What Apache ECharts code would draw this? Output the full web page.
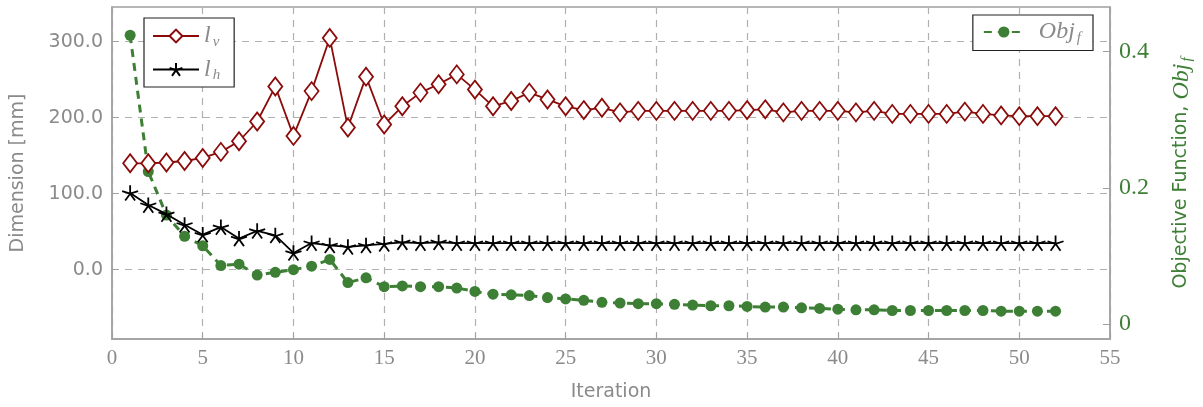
<!DOCTYPE html>
<html>
<head>
<meta charset="utf-8">
<script src="https://cdn.jsdelivr.net/npm/echarts@6/dist/echarts.min.js"></script>
<style>
  html, body { margin: 0; padding: 0; background: #fff; }
  #chart { width: 1203px; height: 407px; }
</style>
</head>
<body>
<div id="chart"></div>
<script>
// Iteration numbers
const iterations = [1,2,3,4,5,6,7,8,9,10,11,12,13,14,15,16,17,18,19,20,21,22,23,24,25,26,
  27,28,29,30,31,32,33,34,35,36,37,38,39,40,41,42,43,44,45,46,47,48,49,50,51,52];

// l_v dimension [mm]
const lv = [140,140,141,143,147,155,169,195,241,176,235,305,187,254,191,215,233,244,257,237,
  215,222,233,224,215,210,213,207,209,209,209,209,209,209,210,211,207,209,209,209,
  207,209,205,205,205,205,208,205,203,202,202,202];

// l_h dimension [mm]
const lh = [101,85,73,59,46,56,41,51,45,22,35,32,30,32,34,36,35,36,35,35,
  35,35,35,35,35,35,35,35,35,35,35,35,35,35,35,35,35,35,35,35,
  35,35,35,35,35,35,35,35,35,35,35,35];

// Objective function Obj_f
const objf = [0.424,0.224,0.160,0.129,0.115,0.086,0.088,0.072,0.076,0.080,0.085,0.095,0.061,0.068,
  0.055,0.056,0.055,0.055,0.053,0.048,0.044,0.043,0.042,0.039,0.037,0.035,0.032,0.031,0.030,
  0.030,0.029,0.028,0.027,0.027,0.026,0.025,0.025,0.024,0.023,0.022,0.021,0.021,0.020,0.020,
  0.020,0.020,0.020,0.020,0.019,0.019,0.019,0.019];

// Tick values
const leftTicks = [0,100,200,300];
const rightTicks = [0,0.2,0.4];

const RED = '#8b0a0a';
const GREEN = '#3d7f35';
const GRAY = '#8a8a8a';
const FRAME = '#a0a0a0';
const GRID = '#b0b0b0';

// five-armed asterisk marker
const STAR = 'path://M50,50L50,0M50,50L2.45,34.5M50,50L20.6,90.5M50,50L79.4,90.5M50,50L97.55,34.5';

const pair = (xs, ys) => xs.map((x, i) => [x, ys[i]]);

const chart = echarts.init(document.getElementById('chart'), null, { renderer: 'canvas' });

const mathRich = {
  m: { fontFamily: 'Liberation Serif', fontStyle: 'italic', fontSize: 24, color: GRAY },
  s: { fontFamily: 'Liberation Serif', fontStyle: 'italic', fontSize: 15, color: GRAY, padding: [12, 0, 0, 2] }
};

chart.setOption({
  animation: false,
  backgroundColor: '#fff',
  grid: {
    left: 112, right: 92, top: 7, bottom: 65,
    show: true, borderColor: FRAME, borderWidth: 1.5, backgroundColor: 'transparent'
  },
  legend: [
    {
      data: ['lv', 'lh'],
      orient: 'vertical',
      left: 144, top: 18,
      padding: [6, 14, 4, 8],
      itemWidth: 46, itemHeight: 16, itemGap: 8,
      borderColor: '#222', borderWidth: 1.2, backgroundColor: '#fff',
      formatter: n => n === 'lv' ? '{m|l}{s|v}' : '{m|l}{s|h}',
      textStyle: { rich: mathRich }
    },
    {
      data: ['objf'],
      right: 110, top: 15,
      padding: [5, 12, 5, 10],
      itemWidth: 40, itemHeight: 14, 
      borderColor: '#222', borderWidth: 1.2, backgroundColor: '#fff',
      formatter: () => '{m|Obj}{s|f}',
      textStyle: { rich: mathRich, padding: [0, 0, 0, 10] }
    }
  ],
  xAxis: {
    type: 'value', min: 0, max: 55, interval: 5,
    name: 'Iteration', nameLocation: 'middle', nameGap: 44,
    nameTextStyle: { fontFamily: 'DejaVu Sans', fontSize: 19, color: GRAY },
    axisLine: { show: true, onZero: false, lineStyle: { color: FRAME, width: 1.5 } },
    axisTick: { show: true, inside: true, length: 6, lineStyle: { color: FRAME } },
    axisLabel: { fontFamily: 'Liberation Serif', fontSize: 21, color: GRAY, margin: 9 },
    splitLine: { show: true, lineStyle: { color: GRID, type: [7, 6], width: 1.2 } }
  },
  yAxis: [
    {
      type: 'value', min: -91.3, max: 345.7, position: 'left',
      name: 'Dimension [mm]', nameLocation: 'middle', nameGap: 84,
      nameTextStyle: { fontFamily: 'DejaVu Sans', fontSize: 19, color: GRAY },
      axisLine: { show: true, lineStyle: { color: FRAME, width: 1.5 } },
      axisTick: { show: true, inside: true, length: 6, customValues: leftTicks, lineStyle: { color: FRAME } },
      axisLabel: {
        customValues: leftTicks, fontFamily: 'DejaVu Sans', fontSize: 19, color: GRAY, margin: 9,
        formatter: v => v.toFixed(1)
      },
      splitLine: { show: true, lineStyle: { color: GRID, type: [7, 6], width: 1.2 } }
    },
    {
      type: 'value', min: -0.02182, max: 0.46545, position: 'right',
      name: '{t|Objective Function, }{m|Obj}{s|f}', nameLocation: 'middle', nameGap: 58,
      nameTextStyle: {
        rich: {
          t: { fontFamily: 'DejaVu Sans', fontSize: 19, color: GREEN },
          m: { fontFamily: 'Liberation Serif', fontStyle: 'italic', fontSize: 24, color: GREEN },
          s: { fontFamily: 'Liberation Serif', fontStyle: 'italic', fontSize: 15, color: GREEN, padding: [12, 0, 0, 2] }
        }
      },
      axisLine: { show: true, lineStyle: { color: FRAME, width: 1.5 } },
      axisTick: { show: true, inside: true, length: 7, customValues: rightTicks, lineStyle: { color: FRAME } },
      axisLabel: {
        customValues: rightTicks, fontFamily: 'Liberation Serif', fontSize: 24, color: GREEN, margin: 9,
        formatter: v => (v === 0 ? '0' : String(v))
      },
      splitLine: { show: false }
    }
  ],
  series: [
    {
      name: 'objf', type: 'line', yAxisIndex: 1,
      data: pair(iterations, objf),
      symbol: 'circle', symbolSize: 11,
      lineStyle: { color: GREEN, width: 3, type: [8, 6] },
      itemStyle: { color: GREEN },
      z: 2
    },
    {
      name: 'lh', type: 'line', yAxisIndex: 0,
      data: pair(iterations, lh),
      symbol: STAR, symbolSize: 16, symbolKeepAspect: true,
      lineStyle: { color: '#000', width: 1.8 },
      itemStyle: { color: '#000', borderColor: '#000', borderWidth: 1.8 },
      z: 3
    },
    {
      name: 'lv', type: 'line', yAxisIndex: 0,
      data: pair(iterations, lv),
      symbol: 'diamond', symbolSize: [14, 18],
      lineStyle: { color: RED, width: 1.8 },
      itemStyle: { color: '#fff', borderColor: RED, borderWidth: 1.8 },
      z: 4
    }
  ]
});
</script>
</body>
</html>
